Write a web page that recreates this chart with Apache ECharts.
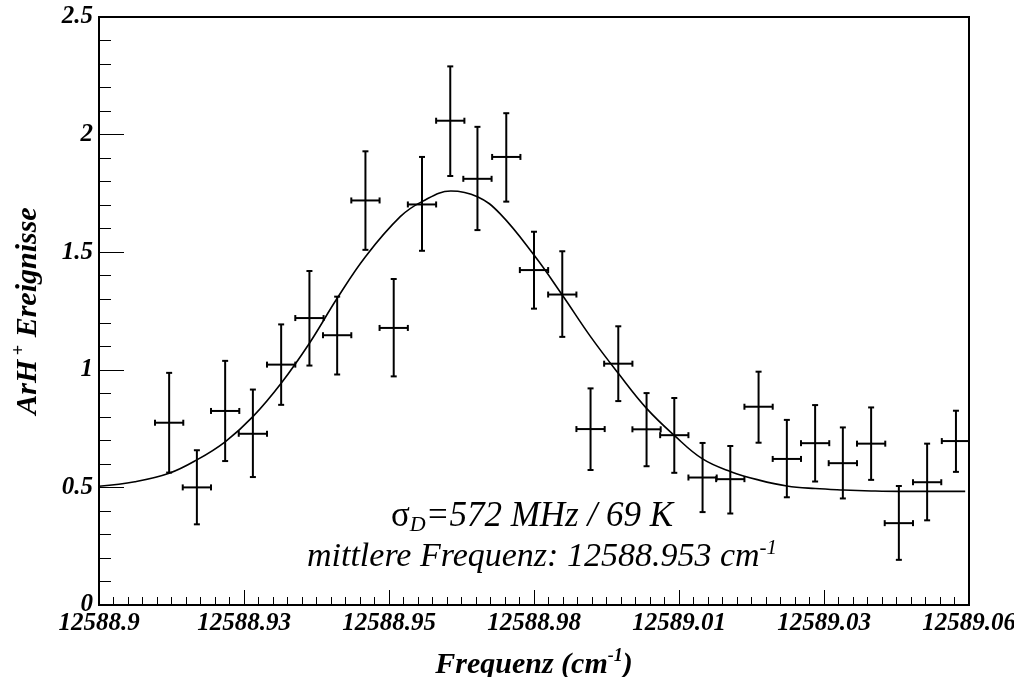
<!DOCTYPE html>
<html lang="de">
<head>
  <meta charset="UTF-8">
  <title>ArH+ Doppler</title>
  <style>
    html, body { margin: 0; padding: 0; background: #fff; }
  </style>
</head>
<body>
<div id="main" style="width: 1014px;height:677px;"></div>
<script src="https://cdn.jsdelivr.net/npm/echarts@6/dist/echarts.min.js"></script>
<script type="text/javascript">
  // measured points (frequency in cm^-1, events)
  const freq = [12588.9129, 12588.9180, 12588.9232, 12588.9283, 12588.9335, 12588.9387, 12588.9438, 12588.9490,
    12588.9542, 12588.9594, 12588.9646, 12588.9696, 12588.9749, 12588.9800, 12588.9852, 12588.9904, 12588.9955,
    12589.0007, 12589.0058, 12589.0110, 12589.0161, 12589.0213, 12589.0265, 12589.0317, 12589.0368, 12589.0420,
    12589.0471, 12589.0523, 12589.0576]
  const counts = [0.775, 0.50, 0.825, 0.728, 1.022, 1.22, 1.147, 1.72, 1.178, 1.703, 2.059, 1.812, 1.905, 1.424,
    1.32, 0.748, 1.026, 0.747, 0.722, 0.542, 0.535, 0.843, 0.621, 0.688, 0.603, 0.686, 0.348, 0.522, 0.697]
  const upper = [0.987, 0.658, 1.038, 0.916, 1.193, 1.42, 1.311, 1.929, 1.386, 1.905, 2.29, 2.033, 2.091, 1.587,
    1.504, 0.921, 1.185, 0.901, 0.88, 0.689, 0.676, 0.992, 0.787, 0.85, 0.755, 0.84, 0.506, 0.686, 0.826]
  const lower = [0.563, 0.343, 0.612, 0.544, 0.851, 1.018, 0.98, 1.51, 0.972, 1.506, 1.824, 1.594, 1.715, 1.26,
    1.14, 0.574, 0.867, 0.59, 0.562, 0.395, 0.389, 0.69, 0.458, 0.525, 0.453, 0.532, 0.192, 0.36, 0.566]
  const binHalfWidth = 0.0026

  // gauss fit
  const fitFreq = [12588.9, 12588.9066, 12588.9129, 12588.9180, 12588.9232, 12588.9283, 12588.9335, 12588.9387,
    12588.9438, 12588.9490, 12588.9554, 12588.9594, 12588.9647, 12588.9696, 12588.9737, 12588.9800, 12588.9852,
    12588.9904, 12588.9955, 12589.0007, 12589.0059, 12589.0110, 12589.0162, 12589.0214, 12589.0265, 12589.0317,
    12589.0369, 12589.0420, 12589.0471, 12589.0593]
  const fitCounts = [0.505, 0.524, 0.560, 0.617, 0.694, 0.801, 0.943, 1.113, 1.304, 1.481, 1.651, 1.715, 1.760,
    1.736, 1.665, 1.488, 1.318, 1.141, 0.985, 0.836, 0.719, 0.621, 0.567, 0.531, 0.506, 0.495, 0.489, 0.485,
    0.483, 0.483]

  const xTickLabels = ['12588.9', '12588.93', '12588.95', '12588.98', '12589.01', '12589.03', '12589.06']
  const yTickLabels = ['0', '0.5', '1', '1.5', '2', '2.5']

  // axis runs 12588.9 .. 12589.06 in 6 equal steps -> use 0..6000 internally
  const x0 = 12588.9
  const scaleX = 6000 / 0.16
  const toAxis = f => (f - x0) * scaleX

  const font = 'Liberation Serif'
  const supStyle = { fontFamily: font, fontStyle: 'italic', fontWeight: 'bold', fontSize: 18, verticalAlign: 'top', lineHeight: 16, color: '#000' }
  const titleTxt = { fontFamily: font, fontStyle: 'italic', fontWeight: 'bold', fontSize: 30, color: '#000', lineHeight: 36 }

  const points = freq.map((f, i) => [toAxis(f), counts[i], lower[i], upper[i]])
  const fit = fitFreq.map((f, i) => [toAxis(f), fitCounts[i]])
  const hw = binHalfWidth * scaleX

  function renderBar(params, api) {
    const x = api.value(0), y = api.value(1), lo = api.value(2), hi = api.value(3)
    const l = api.coord([x - hw, y]), r = api.coord([x + hw, y])
    const t = api.coord([x, hi]), b = api.coord([x, lo])
    const st = { stroke: '#000', lineWidth: 2 }
    const seg = (x1, y1, x2, y2) => ({ type: 'line', shape: { x1, y1, x2, y2 }, style: st })
    const c = 3
    return {
      type: 'group',
      children: [
        seg(l[0], l[1], r[0], r[1]),
        seg(t[0], t[1], b[0], b[1]),
        seg(t[0] - c, t[1], t[0] + c, t[1]),
        seg(b[0] - c, b[1], b[0] + c, b[1]),
        seg(l[0], l[1] - c, l[0], l[1] + c),
        seg(r[0], r[1] - c, r[0], r[1] + c)
      ]
    }
  }

  const Chart = echarts.init(document.getElementById('main'))

  const option = {
    animation: false,
    backgroundColor: '#fff',
    grid: {
      left: 99, right: 45, top: 17, bottom: 72,
      outerBoundsMode: 'none',
      containLabel: false,
      show: true, borderColor: '#000', borderWidth: 2, backgroundColor: 'transparent'
    },
    xAxis: {
      type: 'value',
      min: 0, max: 6000, interval: 1000,
      name: '{t|Frequenz (cm}{s|-1}{t|)}',
      nameLocation: 'middle',
      nameGap: 42,
      nameTextStyle: { rich: { t: titleTxt, s: supStyle } },
      axisLine: { show: true, onZero: false, lineStyle: { color: '#000', width: 2 } },
      axisTick: { show: true, inside: true, length: 15, lineStyle: { color: '#000', width: 1 } },
      minorTick: { show: true, splitNumber: 10, length: 8, lineStyle: { color: '#000', width: 1 } },
      splitLine: { show: false },
      axisLabel: {
        margin: 6,
        color: '#000', fontFamily: font, fontStyle: 'italic', fontWeight: 'bold', fontSize: 25,
        formatter: v => xTickLabels[Math.round(v / 1000)]
      }
    },
    yAxis: {
      type: 'value',
      min: 0, max: 2.5, interval: 0.5,
      name: '{t|ArH}{s| +}{t| Ereignisse}',
      nameLocation: 'middle',
      nameGap: 53,
      nameRotate: 90,
      nameTextStyle: { rich: { t: titleTxt, s: supStyle } },
      axisLine: { show: true, lineStyle: { color: '#000', width: 2 } },
      axisTick: { show: true, inside: true, length: 25, lineStyle: { color: '#000', width: 1 } },
      minorTick: { show: true, splitNumber: 5, length: 12, lineStyle: { color: '#000', width: 1 } },
      splitLine: { show: false },
      axisLabel: {
        margin: 6,
        color: '#000', fontFamily: font, fontStyle: 'italic', fontWeight: 'bold', fontSize: 25,
        formatter: v => yTickLabels[Math.round(v / 0.5)]
      }
    },
    graphic: [
      {
        type: 'text', x: 532, y: 517,
        style: {
          text: '{g|σ}{d|D}{t|=572 MHz / 69 K}',
          textAlign: 'center', textVerticalAlign: 'middle', align: 'center', verticalAlign: 'middle',
          rich: {
            g: { fontFamily: font, fontSize: 35, lineHeight: 38, fill: '#000', color: '#000' },
            d: { fontFamily: font, fontStyle: 'italic', fontSize: 22, verticalAlign: 'bottom', lineHeight: 10, fill: '#000', color: '#000' },
            t: { fontFamily: font, fontStyle: 'italic', fontSize: 35, lineHeight: 38, fill: '#000', color: '#000' }
          }
        }
      },
      {
        type: 'text', x: 542, y: 557,
        style: {
          text: '{t|mittlere Frequenz: 12588.953 cm}{s|-1}',
          textAlign: 'center', textVerticalAlign: 'middle', align: 'center', verticalAlign: 'middle',
          rich: {
            t: { fontFamily: font, fontStyle: 'italic', fontSize: 34, lineHeight: 38, fill: '#000', color: '#000' },
            s: { fontFamily: font, fontStyle: 'italic', fontSize: 21, verticalAlign: 'top', lineHeight: 20, fill: '#000', color: '#000' }
          }
        }
      }
    ],
    series: [{
      name: 'fit',
      type: 'line',
      data: fit,
      smooth: 0.4,
      showSymbol: false,
      lineStyle: { color: '#000', width: 1.6 },
      z: 3
    }, {
      name: 'Messung',
      type: 'custom',
      renderItem: renderBar,
      data: points,
      clip: true,
      z: 4
    }]
  }

  Chart.setOption(option)
</script>
</body>
</html>
